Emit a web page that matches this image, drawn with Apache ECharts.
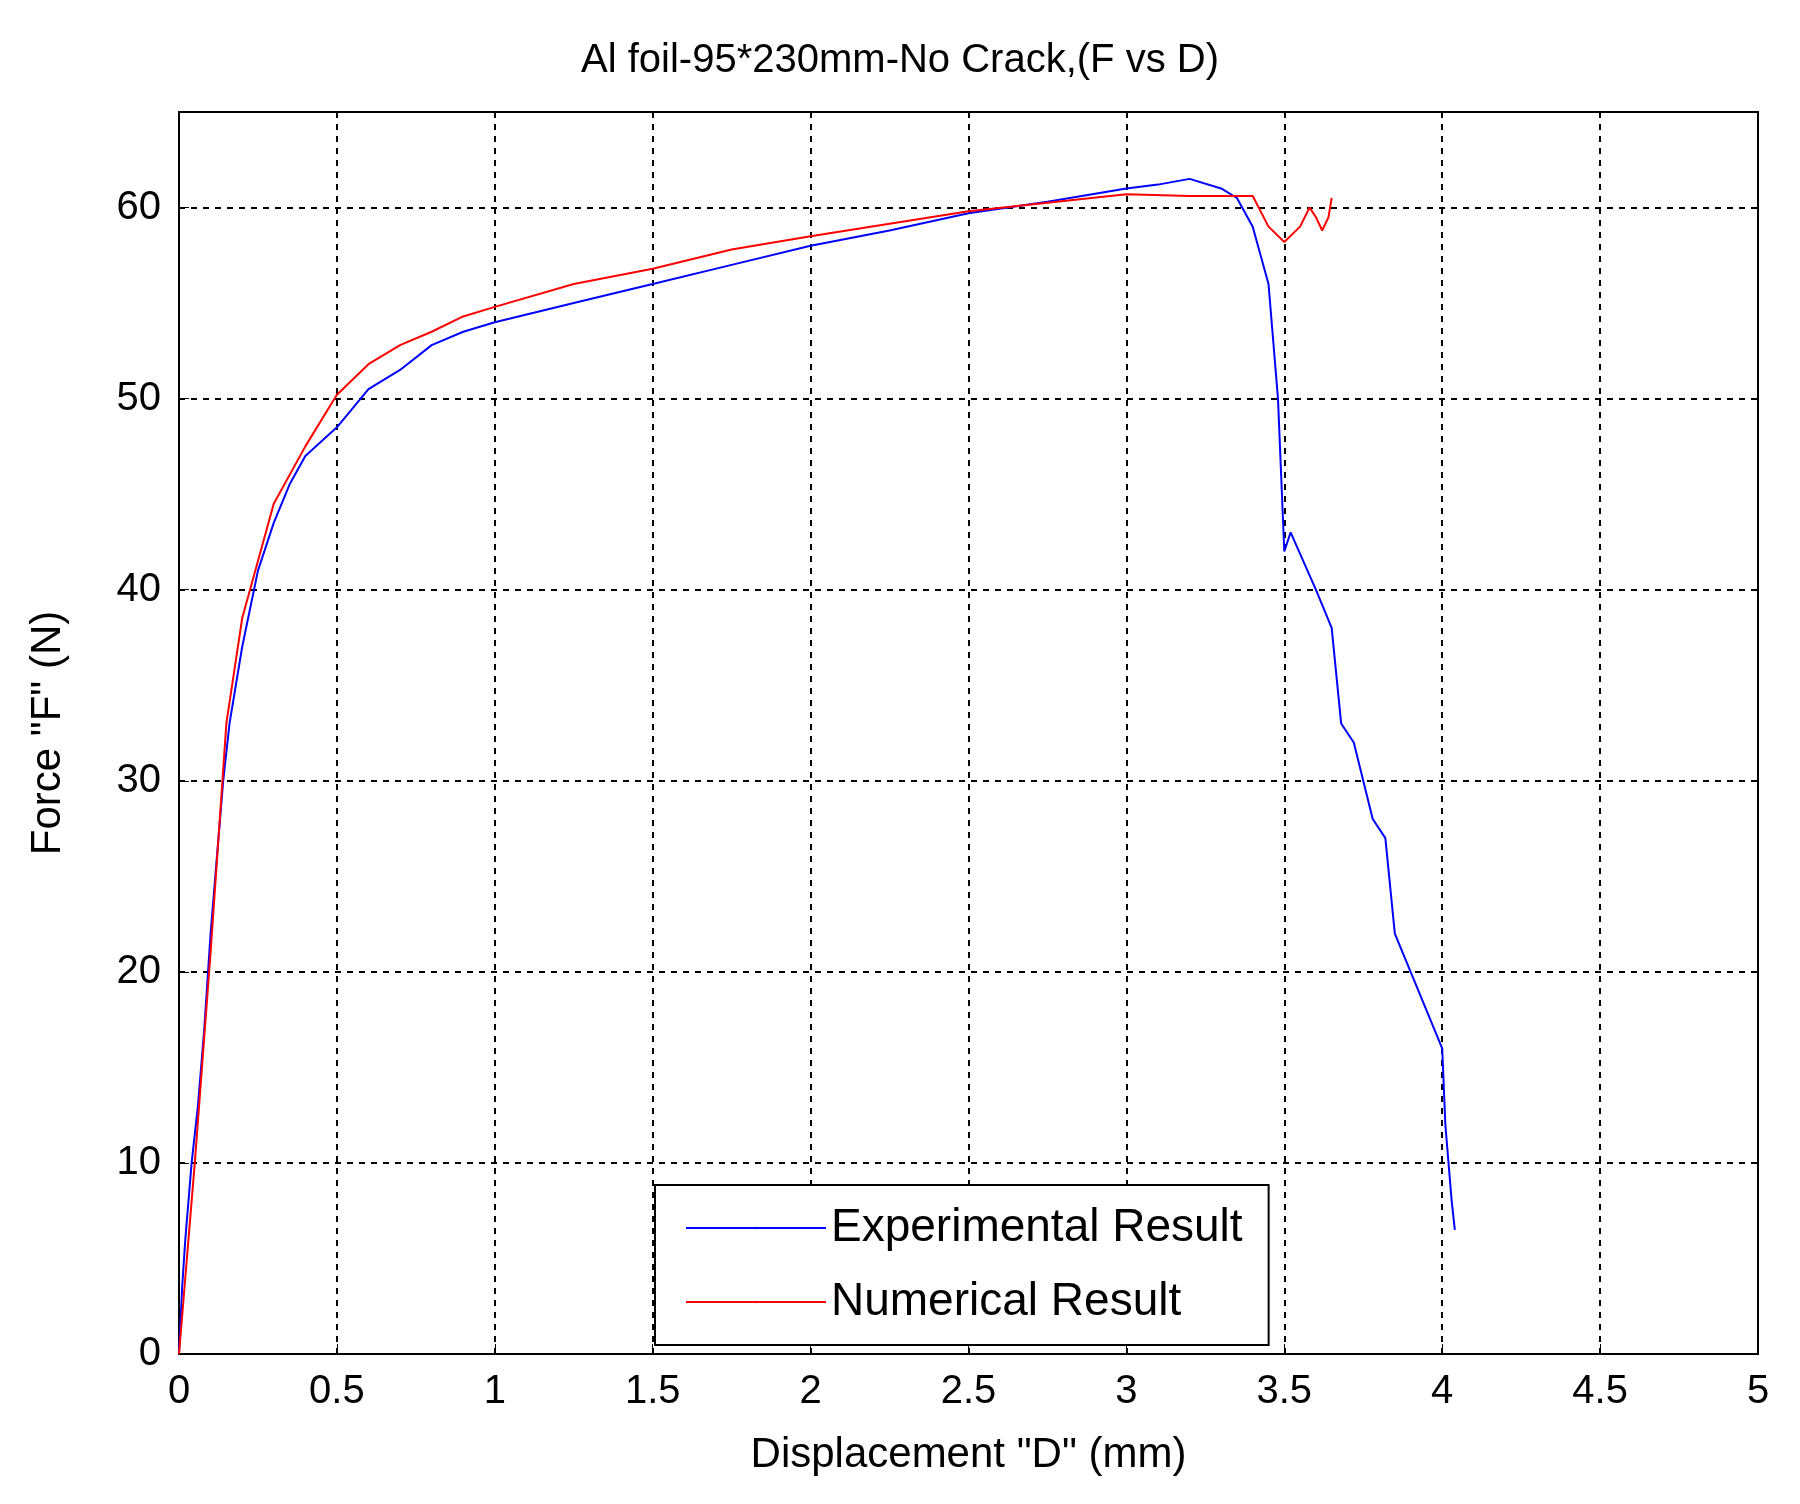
<!DOCTYPE html>
<html>
<head>
<meta charset="utf-8">
<script src="https://cdn.jsdelivr.net/npm/echarts@6/dist/echarts.min.js"></script>
<style>html,body{margin:0;background:#fff}#chart{width:1800px;height:1504px}</style>
</head>
<body>
<div id="chart"></div>
<script>
// 实验数据 (位移 mm, 力 N)
const expD = [0,0.01,0.02,0.04,0.06,0.08,0.1,0.12,0.14,0.16,0.2,0.25,0.3,0.35,0.4,0.5,0.6,0.7,0.8,0.9,1,1.25,1.5,1.75,2,2.25,2.5,2.75,3,3.1,3.2,3.3,3.35,3.4,3.45,3.48,3.5,3.52,3.6,3.65,3.68,3.72,3.78,3.82,3.85,3.9,3.95,4.0,4.01,4.03,4.04];
const expF = [0,3.5,6,10,13,17,22,26,30,33,37,41,43.5,45.5,47,48.5,50.5,51.5,52.8,53.5,54,55,56,57,58,58.8,59.7,60.3,61,61.2,61.5,61,60.5,59,56,50,42,43,40,38,33,32,28,27,22,20,18,16,12,8,6.5];
// 数值模拟
const numD = [0,0.05,0.1,0.15,0.2,0.3,0.4,0.5,0.6,0.7,0.8,0.9,1,1.25,1.5,1.75,2,2.5,3,3.2,3.4,3.45,3.5,3.55,3.58,3.6,3.62,3.64,3.65];
const numF = [0,10,21,33,38.5,44.5,47.5,50.2,51.8,52.8,53.5,54.3,54.8,56,56.8,57.8,58.5,59.8,60.7,60.6,60.6,59,58.2,59,60,59.5,58.8,59.5,60.5];

const zip = (a, b) => a.map((v, i) => [v, b[i]]);
const font = 'Liberation Sans, Arial, sans-serif';
const grid = {show: true, lineStyle: {color: '#000', type: [6, 6], width: 2}};
const chart = echarts.init(document.getElementById('chart'));
chart.setOption({
  animation: false,
  title: {text: 'Al foil-95*230mm-No Crack,(F vs D)', left: 'center', top: 36,
    textStyle: {fontFamily: font, fontWeight: 'normal', fontSize: 40, color: '#000'}},
  grid: {left: 179, right: 42, top: 112, bottom: 150, show: true, borderColor: '#000', borderWidth: 2},
  legend: {left: 655, top: 1185, width: 600, orient: 'vertical', itemWidth: 140, itemHeight: 3, itemGap: 28,
    padding: [20, 26, 20, 30], borderColor: '#000', borderWidth: 2, backgroundColor: '#fff',
    textStyle: {fontFamily: font, fontSize: 46, color: '#000'}},
  xAxis: {type: 'value', min: 0, max: 5, interval: 0.5,
    name: 'Displacement "D" (mm)', nameLocation: 'middle', nameGap: 80,
    nameTextStyle: {fontFamily: font, fontSize: 42, color: '#000'},
    axisLine: {lineStyle: {color: '#000', width: 2}}, axisTick: {inside: true, length: 10, lineStyle: {color: '#000'}},
    axisLabel: {fontFamily: font, fontSize: 40, color: '#000', margin: 18}, splitLine: grid},
  yAxis: {type: 'value', min: 0, max: 65, interval: 10,
    name: 'Force "F" (N)', nameLocation: 'middle', nameGap: 110,
    nameTextStyle: {fontFamily: font, fontSize: 42, color: '#000'},
    axisLine: {show: true, lineStyle: {color: '#000', width: 2}}, axisTick: {inside: true, length: 10, lineStyle: {color: '#000'}},
    axisLabel: {fontFamily: font, fontSize: 40, color: '#000', margin: 18,
      formatter: v => v > 60 ? '' : v}, splitLine: grid},
  series: [
    {name: 'Experimental Result', type: 'line', data: zip(expD, expF), symbol: 'none',
      lineStyle: {color: '#0000ff', width: 2}, itemStyle: {color: '#0000ff'}},
    {name: 'Numerical Result', type: 'line', data: zip(numD, numF), symbol: 'none',
      lineStyle: {color: '#ff0000', width: 2}, itemStyle: {color: '#ff0000'}}
  ]
});
</script>
</body>
</html>
